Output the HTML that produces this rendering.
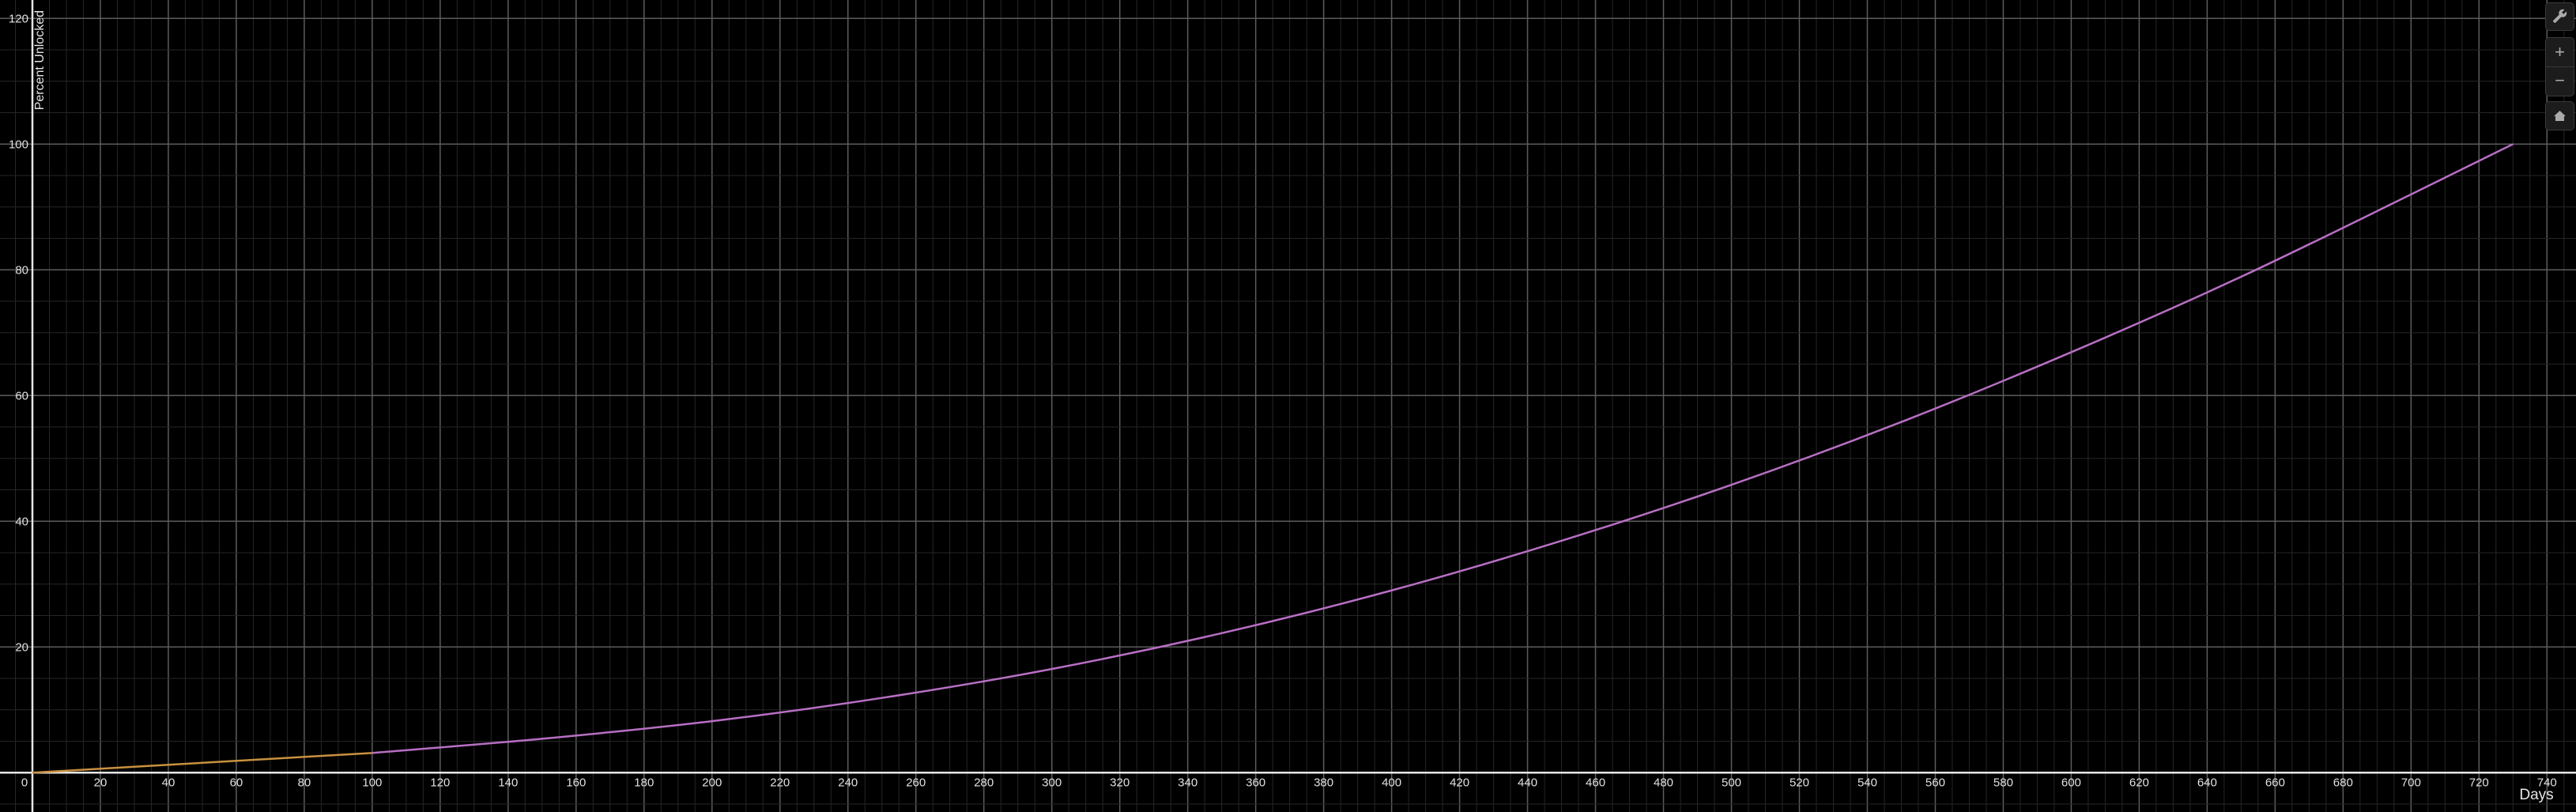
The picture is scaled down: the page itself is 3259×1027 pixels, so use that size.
<!DOCTYPE html>
<html><head><meta charset="utf-8"><style>
html,body{margin:0;padding:0;background:#000;overflow:hidden}
svg{display:block}
text{font-family:"Liberation Sans",sans-serif}
.btn{position:absolute;right:2px;width:35px;background:#1c1c1c;border:1px solid #3a3a3a;border-radius:5px;color:#aaa;font-family:"Liberation Sans",sans-serif;text-align:center}
</style></head><body>
<svg id="chart" width="3259" height="1027"></svg>
<div class="btn" style="top:3px;height:34px">
 <svg width="35" height="34"><g transform="translate(17,17) rotate(45)" fill="#aaa"><rect x="-2" y="-2" width="4" height="12" rx="1"/><circle cx="0" cy="-6" r="5"/><rect x="-1.6" y="-12" width="3.2" height="6" fill="#1c1c1c"/></g></svg>
</div>
<div class="btn" style="top:47px;height:73px">
 <div style="height:36px;line-height:36px;font-size:22px;border-bottom:1px solid #3a3a3a">+</div>
 <div style="height:36px;line-height:34px;font-size:22px">&#8722;</div>
</div>
<div class="btn" style="top:128px;height:35px">
 <svg width="35" height="35"><path d="M10 18 L17.5 11 L25 18 L23 18 L23 24 L12 24 L12 18 Z" fill="#aaa"/></svg>
</div>
<script>
const days = [0, 100, 150, 200, 250, 300, 350, 400, 450, 500, 550, 600, 650, 700, 730];
const percent = [0, 3.14, 5.4, 8.2, 11.9, 16.5, 22.2, 29.0, 36.9, 45.8, 55.8, 66.9, 78.9, 92.0, 100];
const linearEndIndex = 1;
const xTicks = [0,20,40,60,80,100,120,140,160,180,200,220,240,260,280,300,320,340,360,380,400,420,440,460,480,500,520,540,560,580,600,620,640,660,680,700,720,740];
const yTicks = [20,40,60,80,100,120];

const W=3259,H=1027,X0=41,Y0=977.3,PX=4.299,PY=7.95;
const sx=d=>X0+d*PX, sy=v=>Y0-v*PY;
const svg=document.getElementById('chart');
const NS='http://www.w3.org/2000/svg';
function mk(t,a,p){const e=document.createElementNS(NS,t);for(const k in a)e.setAttribute(k,a[k]);(p||svg).appendChild(e);return e;}
const bg=mk('rect',{x:0,y:0,width:W,height:H,fill:'#000'});


const grid=mk('g',{});


const dMax=(W-X0)/PX,vMax=Y0/PY;
for(let d=-5;d<=dMax;d+=5){if(d===0)continue;const maj=d%20===0;
 mk('line',{x1:sx(d),x2:sx(d),y1:0,y2:H,stroke:maj?'#5c5c5c':'#262626','stroke-width':maj?1.5:1},grid);}
for(let v=-5;v<=vMax;v+=5){if(v===0)continue;const maj=v%20===0;
 mk('line',{x1:0,x2:W,y1:sy(v),y2:sy(v),stroke:maj?'#5c5c5c':'#262626','stroke-width':maj?1.5:1},grid);}
const xa=mk('line',{x1:0,x2:W,y1:Y0,y2:Y0,stroke:'#e6e6e6','stroke-width':2.5});


const ya=mk('line',{x1:X0,x2:X0,y1:0,y2:H,stroke:'#e6e6e6','stroke-width':2.5});


xTicks.forEach(t=>{const e=mk('text',{x:t===0?X0-10:sx(t),y:Y0+17,fill:'#e0e0e0','font-size':15,'text-anchor':'middle'});e.textContent=t;
 
 });
yTicks.forEach(t=>{const e=mk('text',{x:X0-5,y:sy(t)+5,fill:'#e0e0e0','font-size':15,'text-anchor':'end'});e.textContent=t;
 
 });
const xt=mk('text',{x:3209,y:1011,fill:'#e6e6e6','font-size':19,'text-anchor':'middle'});xt.textContent='Days';


const yt=mk('text',{x:0,y:0,fill:'#e6e6e6','font-size':16,'text-anchor':'end',transform:'translate(55,13) rotate(-90)'});yt.textContent='Percent Unlocked';


const lin=mk('line',{x1:sx(days[0]),y1:sy(percent[0]),x2:sx(days[linearEndIndex]),y2:sy(percent[linearEndIndex]),stroke:'#c8913f','stroke-width':2.5});


const pts=[];for(let i=linearEndIndex;i<days.length;i++)pts.push([sx(days[i]),sy(percent[i])]);
let d='M'+pts[0][0]+','+pts[0][1];
for(let i=0;i<pts.length-1;i++){const p0=pts[Math.max(0,i-1)],p1=pts[i],p2=pts[i+1],p3=pts[Math.min(pts.length-1,i+2)];
 d+=` C${p1[0]+(p2[0]-p0[0])/6},${p1[1]+(p2[1]-p0[1])/6} ${p2[0]-(p3[0]-p1[0])/6},${p2[1]-(p3[1]-p1[1])/6} ${p2[0]},${p2[1]}`;}
const cur=mk('path',{d:d,fill:'none',stroke:'#b86fc4','stroke-width':2.5});


</script>
</body></html>
